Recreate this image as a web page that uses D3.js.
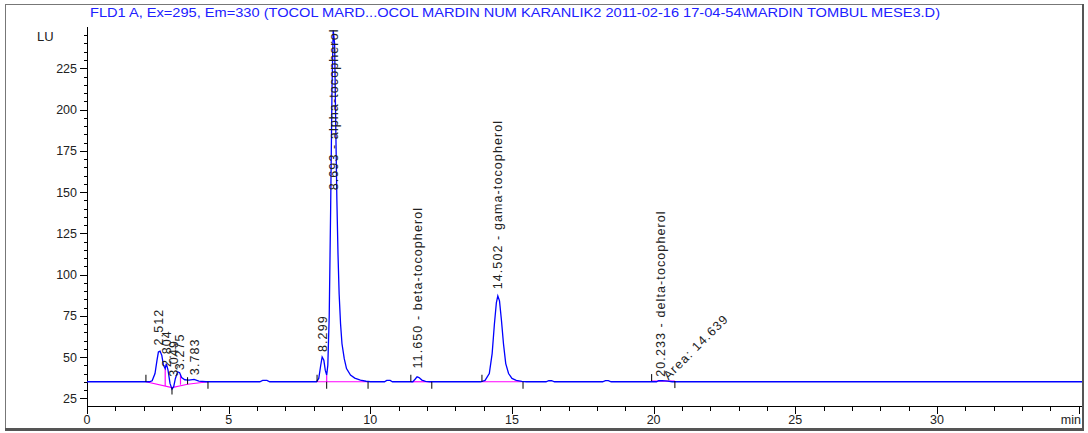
<!DOCTYPE html>
<html>
<head>
<meta charset="utf-8">
<script src="https://cdn.jsdelivr.net/npm/d3@7"></script>
<style>
  body { margin: 0; background: #fff; }
  svg text { font-family: "Liberation Sans", Arial, sans-serif; }
</style>
</head>
<body>
<script>
var W = 1088, H = 433;

var title = "FLD1 A, Ex=295, Em=330 (TOCOL MARD...OCOL MARDIN NUM KARANLIK2 2011-02-16 17-04-54\\MARDIN TOMBUL MESE3.D)";
var yLabel = "LU";
var xLabel = "min";
var xMajor = [0, 5, 10, 15, 20, 25, 30];
var yMajor = [25, 50, 75, 100, 125, 150, 175, 200, 225];

// signal (time min, LU)
var trace = [
  [0, 35], [2.2, 35], [2.3, 35.6], [2.4, 40], [2.47, 48], [2.52, 53], [2.58, 53.5], [2.64, 51],
  [2.7, 45], [2.76, 43], [2.8, 46], [2.86, 42], [2.93, 34], [3.0, 30.5], [3.06, 32],
  [3.12, 37], [3.2, 41], [3.27, 40.5], [3.34, 37.5], [3.45, 36.2], [3.6, 36], [3.78, 36.4],
  [3.95, 35.4], [4.2, 35], [6.1, 35], [6.2, 35.8], [6.35, 35.8], [6.45, 35],
  [8.1, 35], [8.18, 37], [8.25, 45], [8.3, 50], [8.36, 48], [8.41, 42], [8.46, 39],
  [8.5, 45], [8.55, 75], [8.6, 140], [8.65, 215], [8.69, 248], [8.74, 240], [8.78, 190],
  [8.82, 145], [8.86, 112], [8.9, 88], [8.95, 70], [9.0, 58], [9.08, 49], [9.16, 43],
  [9.3, 39], [9.45, 37.2], [9.65, 36], [9.85, 35.3], [10.0, 35], [10.5, 35], [10.58, 35.8],
  [10.7, 35.8], [10.78, 35], [11.5, 35], [11.58, 36.5], [11.65, 38], [11.72, 37.5],
  [11.82, 36], [11.95, 35.2], [12.1, 35], [13.9, 35], [14.05, 35.8], [14.2, 40],
  [14.3, 52], [14.38, 70], [14.45, 83], [14.5, 87], [14.56, 84], [14.63, 72], [14.7, 58],
  [14.78, 46], [14.88, 40], [15.0, 37], [15.15, 35.8], [15.35, 35.2], [15.5, 35],
  [16.2, 35], [16.3, 35.6], [16.4, 35.6], [16.5, 35], [18.2, 35], [18.3, 35.7],
  [18.4, 35.7], [18.5, 35], [20.1, 35], [20.18, 35.6], [20.3, 35.7], [20.5, 35.4],
  [20.65, 35], [35.12, 35]
];

// integration baselines
var baselines = [
  [[2.08, 35], [3.0, 31.5], [3.55, 33.5], [4.27, 35]],
  [[8.12, 35], [9.92, 35]],
  [[11.43, 35], [12.17, 35]],
  [[13.94, 35], [15.39, 35]],
  [[19.93, 35.4], [20.75, 35.4]]
];
// drop lines: time, low, high
var drops = [[2.76, 32.4, 43], [3.3, 33.2, 39.5], [8.46, 35, 39]];
// peak start / end marks: time, LU, direction
var marks = [
  [2.08, 35, 1], [3.0, 31.5, -1], [3.55, 33.5, 1], [4.27, 35, -1],
  [8.12, 35, 1], [8.46, 35, -1], [9.92, 35, -1],
  [11.43, 35, 1], [12.17, 35, -1],
  [13.94, 35, 1], [15.39, 35, -1],
  [19.93, 35.4, 1], [20.75, 35.4, -1]
];
// peak labels: time, LU at text base, text
var peakT = [2.512, 2.804, 3.049, 3.275, 3.783, 8.299, 8.693, 11.65, 14.502, 20.233];
var peakBase = [57, 44, 38, 42, 39, 53, 151, 43, 91, 38];
var peakText = ["2.512", "2.804", "3.049", "3.275", "3.783", "8.299",
  "8.693 -  alpha-tocopherol", "11.650 -  beta-tocopherol",
  "14.502 -  gama-tocopherol", "20.233 -  delta-tocopherol"];
var areaText = "Area: 14.639";
var areaAt = [20.45, 35.8];

var svg = d3.select("body").append("svg").attr("width", W).attr("height", H);

// frame
svg.append("rect").attr("x", 5.5).attr("y", 4.5).attr("width", 1077).attr("height", 424)
  .attr("fill", "none").attr("stroke", "#777");
svg.append("line").attr("x1", 5).attr("x2", 1084).attr("y1", 429.5).attr("y2", 429.5)
  .attr("stroke", "#555").attr("stroke-width", 3);
svg.append("line").attr("x1", 1083).attr("x2", 1083).attr("y1", 4).attr("y2", 431)
  .attr("stroke", "#555").attr("stroke-width", 2);

var x = d3.scaleLinear().domain([0, 35.12]).range([87, 1082]);
var y = d3.scaleLinear().domain([20, 250]).range([406.5, 27]);

svg.append("text").attr("x", 90).attr("y", 17).attr("fill", "#2020ff")
  .attr("font-size", 13).attr("textLength", 850).attr("lengthAdjust", "spacingAndGlyphs")
  .text(title);

// y axis
var gy = svg.append("g");
gy.append("line").attr("x1", 87.5).attr("x2", 87.5).attr("y1", y(250)).attr("y2", y(20))
  .attr("stroke", "#000");
gy.selectAll("line.minor").data(d3.range(25, 250, 5)).enter().append("line")
  .attr("x1", function(d){ return yMajor.indexOf(d) > -1 ? 80 : 84; }).attr("x2", 87.5)
  .attr("y1", function(d){ return Math.round(y(d)) + 0.5; })
  .attr("y2", function(d){ return Math.round(y(d)) + 0.5; })
  .attr("stroke", "#000");
gy.selectAll("text").data(yMajor).enter().append("text")
  .attr("x", 77).attr("y", function(d){ return y(d) + 4.5; })
  .attr("text-anchor", "end").attr("font-size", 12.5).attr("fill", "#222")
  .text(function(d){ return d; });
svg.append("text").attr("x", 37).attr("y", 41).attr("font-size", 13).attr("fill", "#222").text(yLabel);

// x axis
var gx = svg.append("g");
gx.append("line").attr("x1", x(0)).attr("x2", 1082).attr("y1", 406.5).attr("y2", 406.5).attr("stroke", "#000");
gx.selectAll("line.t").data(d3.range(0, 36, 1)).enter().append("line")
  .attr("x1", function(d){ return Math.round(x(d)) + 0.5; })
  .attr("x2", function(d){ return Math.round(x(d)) + 0.5; })
  .attr("y1", 406.5)
  .attr("y2", function(d){ return d % 5 == 0 ? 414 : 411; })
  .attr("stroke", "#000");
gx.selectAll("text").data(xMajor).enter().append("text")
  .attr("x", function(d){ return x(d); }).attr("y", 424)
  .attr("text-anchor", "middle").attr("font-size", 12.5).attr("fill", "#222")
  .text(function(d){ return d; });
svg.append("text").attr("x", 1081).attr("y", 424).attr("text-anchor", "end")
  .attr("font-size", 12.5).attr("fill", "#222").text(xLabel);

// integration baselines
var line = d3.line().x(function(d){ return x(d[0]); }).y(function(d){ return y(d[1]); });
svg.selectAll("path.base").data(baselines).enter().append("path")
  .attr("d", line).attr("fill", "none").attr("stroke", "#ff00ff").attr("stroke-width", 1.2);
svg.selectAll("line.drop").data(drops).enter().append("line")
  .attr("x1", function(d){ return x(d[0]); }).attr("x2", function(d){ return x(d[0]); })
  .attr("y1", function(d){ return y(d[1]); }).attr("y2", function(d){ return y(d[2]); })
  .attr("stroke", "#ff00ff").attr("stroke-width", 1.2);

// signal
svg.append("path").datum(trace).attr("d", line).attr("fill", "none")
  .attr("stroke", "#0000ff").attr("stroke-width", 1.3);

// start / end marks
svg.selectAll("line.mark").data(marks).enter().append("line")
  .attr("x1", function(d){ return x(d[0]); }).attr("x2", function(d){ return x(d[0]); })
  .attr("y1", function(d){ return y(d[1]); })
  .attr("y2", function(d){ return y(d[1]) - d[2] * 7; })
  .attr("stroke", "#000").attr("stroke-width", 1);

// peak labels
svg.selectAll("text.peak").data(peakT).enter().append("text")
  .attr("transform", function(d, i){
    return "translate(" + (x(d) + 4.5) + "," + y(peakBase[i]) + ") rotate(-90)";
  })
  .attr("font-size", 12.5).attr("letter-spacing", 1.1).attr("fill", "#222")
  .text(function(d, i){ return peakText[i]; });

svg.append("text")
  .attr("transform", "translate(" + (x(areaAt[0]) + 2) + "," + y(areaAt[1]) + ") rotate(-45)")
  .attr("font-size", 12.5).attr("letter-spacing", 1.2).attr("fill", "#222").text(areaText);
</script>
</body>
</html>
